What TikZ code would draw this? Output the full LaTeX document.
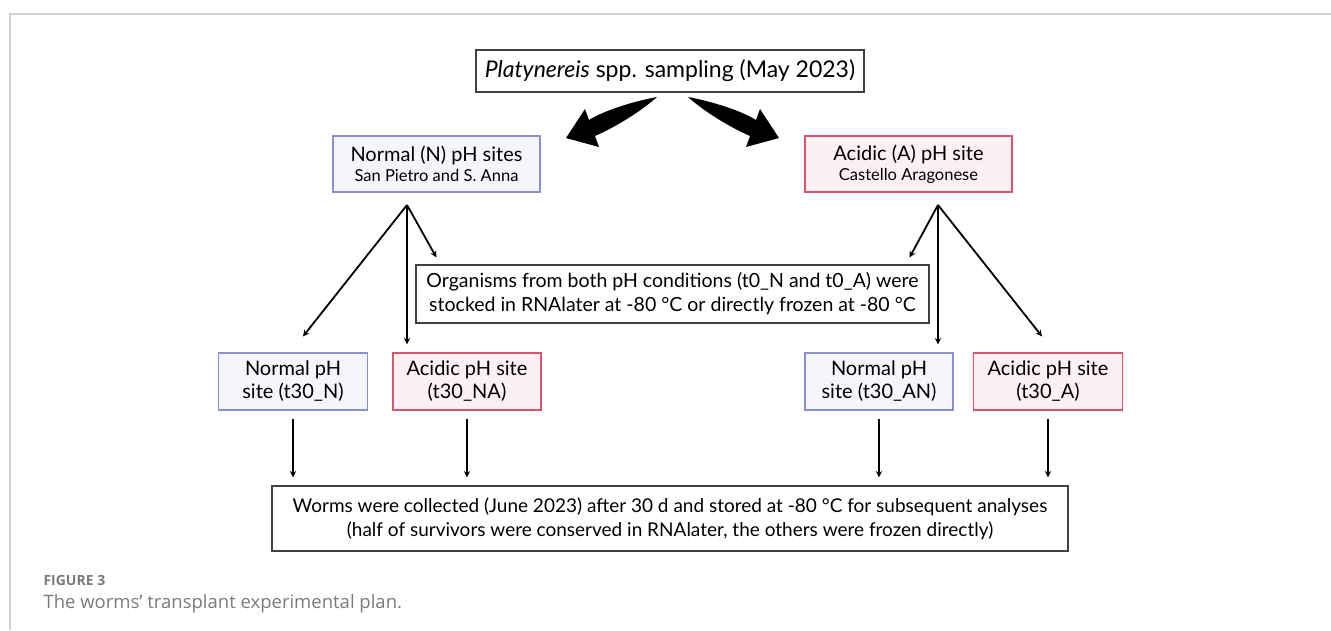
\documentclass[tikz,border=0pt]{standalone}
\usepackage{fontspec}
\setmainfont{Lato}
\newfontfamily\capfont{Open Sans}
\usetikzlibrary{calc,arrows}

\definecolor{nline}{HTML}{8C90D0}
\definecolor{nfill}{HTML}{F5F5FC}
\definecolor{aline}{HTML}{D8546F}
\definecolor{afill}{HTML}{FDF0F3}
\definecolor{capgray}{HTML}{7A7A7A}
\definecolor{framegray}{HTML}{D2D2D2}

\begin{document}
\begin{tikzpicture}[x=1pt,y=-1pt,>=stealth,
    box/.style={draw=black!75, line width=1.2pt, fill=white, align=center,
      inner sep=0pt, font=\fontsize{20}{23}\selectfont},
    nsite/.style={box, draw=nline, fill=nfill},
    asite/.style={box, draw=aline, fill=afill},
    link/.style={->, line width=1.8pt}]
  \useasboundingbox (0,0) rectangle (1331,630);
  \draw[framegray, line width=1.5pt] (10,630) -- (10,14) -- (1331,14);

  \node[box, minimum width=388, minimum height=42, font=\fontsize{23}{26}\selectfont] (samp) at (670,71)
    {\textit{Platynereis} spp. sampling (May 2023)};
  \node[nsite, minimum width=207, minimum height=56] (nsites) at (436.5,164)
    {Normal (N) pH sites\\[-3pt]{\fontsize{16.5}{18}\selectfont San Pietro and S. Anna}};
  \node[asite, minimum width=207, minimum height=56] (asites) at (908.5,164)
    {Acidic (A) pH site\\[-3pt]{\fontsize{16.5}{18}\selectfont Castello Aragonese}};
  \node[box, minimum width=513, minimum height=58, font=\fontsize{19.5}{24}\selectfont] (tzero) at (672.5,294)
    {Organisms from both pH conditions (t0\_N and t0\_A) were\\
     stocked in RNAlater at -80 °C or directly frozen at -80 °C};
  \node[nsite, minimum width=149, minimum height=57] (tN) at (293,381.5)
    {Normal pH\\site (t30\_N)};
  \node[asite, minimum width=148, minimum height=57] (tNA) at (467,381.5)
    {Acidic pH site\\(t30\_NA)};
  \node[nsite, minimum width=148, minimum height=57] (tAN) at (879,381.5)
    {Normal pH\\site (t30\_AN)};
  \node[asite, minimum width=149, minimum height=57] (tA) at (1048,381.5)
    {Acidic pH site\\(t30\_A)};
  \node[box, minimum width=796, minimum height=65, font=\fontsize{19}{24}\selectfont] (worms) at (670,518.5)
    {Worms were collected (June 2023) after 30 d and stored at -80 °C for subsequent analyses\\
     (half of survivors were conserved in RNAlater, the others were frozen directly)};

  % fat curved arrows from the sampling box
  \fill (657,97) .. controls (635,101) and (605,110) .. (589,120) -- (585,109)
    -- (566,138) -- (599,147) -- (595,136) .. controls (620,125) and (645,108) .. (657,97) -- cycle;
  \begin{scope}[xshift=1345, xscale=-1]
    \fill (657,97) .. controls (635,101) and (605,110) .. (589,120) -- (585,109)
      -- (566,138) -- (599,147) -- (595,136) .. controls (620,125) and (645,108) .. (657,97) -- cycle;
  \end{scope}

  % split points under the site boxes
  \coordinate (nsplit) at (407,205);
  \coordinate (asplit) at (938,205);
  \coordinate (ntzero) at ($(tzero.north west)+(21,-7)$);
  \coordinate (atzero) at ($(tzero.north east)+(-20,-7)$);

  \draw[link] (nsplit) -- ($(tN.north)+(10,-16)$);
  \draw[link] (nsplit) -- ($(nsplit |- tNA.north)+(0,-8)$);
  \draw[link] (nsplit) -- (ntzero);
  \draw[link] (asplit) -- (atzero);
  \draw[link] (asplit) -- ($(asplit |- tAN.north)+(0,-8)$);
  \draw[link] (asplit) -- ($(tA.north)+(-6,-16)$);

  \foreach \s in {tN,tNA,tAN,tA}
    \draw[link, shorten <=8pt, shorten >=8pt] (\s.south) -- (\s.south |- worms.north);

  \node[anchor=base west, text=capgray, font=\capfont\fontsize{14}{16}\selectfont\bfseries] (fig) at (40,585) {FIGURE 3};
  \node[anchor=base west, text=capgray, font=\capfont\fontsize{18.5}{22}\selectfont] (cap) at (40,608)
    {The worms’ transplant experimental plan.};
\end{tikzpicture}
\end{document}
